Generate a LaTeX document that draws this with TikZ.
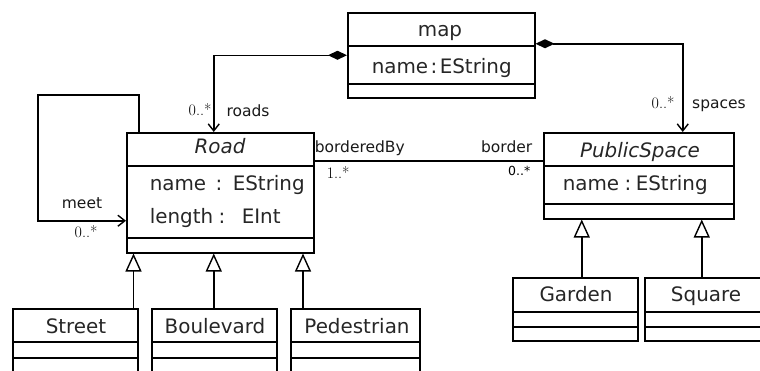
\documentclass[tikz,border=0pt]{standalone}
\usepackage{fontspec}
\setsansfont{DejaVu Sans}
\usetikzlibrary{arrows.meta}
\begin{document}
\begin{tikzpicture}[x=1pt,y=-1pt,
  line width=1.5pt,
  umlbox/.style={draw, line width=1.5pt, rectangle, inner sep=0pt, anchor=north west},
  cls/.style={font=\sffamily\fontsize{19.9}{23}\selectfont, inner sep=0pt, text=black!85, anchor=base},
  attr/.style={cls, anchor=base west},
  lbl/.style={font=\sffamily\fontsize{15.5}{18}\selectfont, inner sep=0pt, text=black!90, anchor=base},
  mult/.style={font=\rmfamily\fontsize{16}{18}\selectfont, inner sep=0pt, text=black, anchor=base},
  mults/.style={font=\sffamily\fontsize{12.5}{14}\selectfont, inner sep=0pt, text=black, anchor=base},
  comp/.style={{Diamond[length=19pt,width=9pt]}-{Straight Barb[length=7pt,width=11pt,line width=1.4pt]}},
  nav/.style={-{Straight Barb[length=7pt,width=11pt,line width=1.4pt]}},
  gen/.style={-{Triangle[open,length=18pt,width=16pt,fill=white,line width=1.4pt]}}
]
\useasboundingbox (0,0) rectangle (760,370);
\clip (0,0) rectangle (760,370);

% boxes
\node[umlbox, minimum width=187pt, minimum height=85pt] (map) at (347,12) {};
\draw ([yshift=-34pt]map.north west) -- ([yshift=-34pt]map.north east);
\draw ([yshift=-72pt]map.north west) -- ([yshift=-72pt]map.north east);

\node[umlbox, minimum width=187pt, minimum height=120pt] (road) at (126,132) {};
\draw ([yshift=-34pt]road.north west) -- ([yshift=-34pt]road.north east);
\draw ([yshift=-106pt]road.north west) -- ([yshift=-106pt]road.north east);

\node[umlbox, minimum width=190pt, minimum height=86pt] (ps) at (543,132) {};
\draw ([yshift=-34pt]ps.north west) -- ([yshift=-34pt]ps.north east);
\draw ([yshift=-72pt]ps.north west) -- ([yshift=-72pt]ps.north east);

\node[umlbox, minimum width=125pt, minimum height=63pt] (garden) at (512,277) {};
\draw ([yshift=-35pt]garden.north west) -- ([yshift=-35pt]garden.north east);
\draw ([yshift=-50pt]garden.north west) -- ([yshift=-50pt]garden.north east);

\node[umlbox, minimum width=124pt, minimum height=63pt] (square) at (644,277) {};
\draw ([yshift=-35pt]square.north west) -- ([yshift=-35pt]square.north east);
\draw ([yshift=-50pt]square.north west) -- ([yshift=-50pt]square.north east);

\node[umlbox, minimum width=125pt, minimum height=70pt] (street) at (12,308) {};
\draw ([yshift=-34pt]street.north west) -- ([yshift=-34pt]street.north east);
\draw ([yshift=-50pt]street.north west) -- ([yshift=-50pt]street.north east);

\node[umlbox, minimum width=125pt, minimum height=70pt] (blvd) at (151,308) {};
\draw ([yshift=-34pt]blvd.north west) -- ([yshift=-34pt]blvd.north east);
\draw ([yshift=-50pt]blvd.north west) -- ([yshift=-50pt]blvd.north east);

\node[umlbox, minimum width=129pt, minimum height=70pt] (ped) at (290,308) {};
\draw ([yshift=-34pt]ped.north west) -- ([yshift=-34pt]ped.north east);
\draw ([yshift=-50pt]ped.north west) -- ([yshift=-50pt]ped.north east);

% texts
\node[cls] (mapT) at (440,36) {map};
\node[attr] (mapA1) at (371,73) {name};
\node[cls] (mapC) at (434,73) {:};
\node[attr] (mapV) at (439,73) {EString};
\node[cls] (roadT) at (220,153) {\itshape Road};
\node[attr] (roadA1) at (149,190) {name};
\node[cls] (roadC1) at (219,190) {:};
\node[attr] (roadV1) at (232,190) {EString};
\node[attr] (roadA2) at (149,223) {length};
\node[cls] (roadC2) at (222,223) {:};
\node[attr] (roadV2) at (241,223) {EInt};
\node[cls] (psT) at (640,157) {\itshape PublicSpace};
\node[attr] (psA) at (562,190) {name};
\node[cls] (psC) at (628,190) {:};
\node[attr] (psV) at (635,190) {EString};
\node[cls] (gardenT) at (576,301) {Garden};
\node[cls] (squareT) at (706,301) {Square};
\node[cls] (streetT) at (76,333) {Street};
\node[cls] (blvdT) at (215,333) {Boulevard};
\node[cls] (pedT) at (357,333) {Pedestrian};

% compositions
\draw[comp] (map.west) -| ([xshift=-6.5pt]road.north);
\draw[comp] ([yshift=11.5pt]map.east) -| ([xshift=44pt]ps.north);
\node[mult] (m1) at (200,115) {0..*};
\node[lbl] (l1) at (248,116) {roads};
\node[mult] (m2) at (663,108) {0..*};
\node[lbl] (l2) at (719,108) {spaces};

% self association
\coordinate (loopA) at (38,95);
\draw[nav] ([xshift=13pt]road.north west) |- (loopA) |- ([yshift=-28pt]road.west);
\node[lbl] (l3) at (82,208) {meet};
\node[mult] (m3) at (86,237) {0..*};

% borderedBy
\draw ([yshift=32pt]road.east) -- ([yshift=32pt]road.east -| ps.west);
\node[lbl, anchor=base west] (l4) at (314,152) {borderedBy};
\node[lbl, anchor=base east] (l5) at (533,152) {border};
\node[mult, anchor=base west] (m4) at (326,178) {1..*};
\node[mults, anchor=base east] (m5) at (531,175) {0..*};

% generalizations
\draw[gen] ([xshift=-5pt]street.north east) -- ([xshift=-5pt]street.north east |- road.south);
\draw[gen] ([xshift=-0.5pt]blvd.north) -- ([xshift=-0.5pt]blvd.north |- road.south);
\draw[gen] ([xshift=13pt]ped.north west) -- ([xshift=13pt]ped.north west |- road.south);
\draw[gen] ([xshift=6.5pt]garden.north) -- ([xshift=6.5pt]garden.north |- ps.south);
\draw[gen] ([xshift=-5pt]square.north) -- ([xshift=-5pt]square.north |- ps.south);
\end{tikzpicture}
\end{document}
